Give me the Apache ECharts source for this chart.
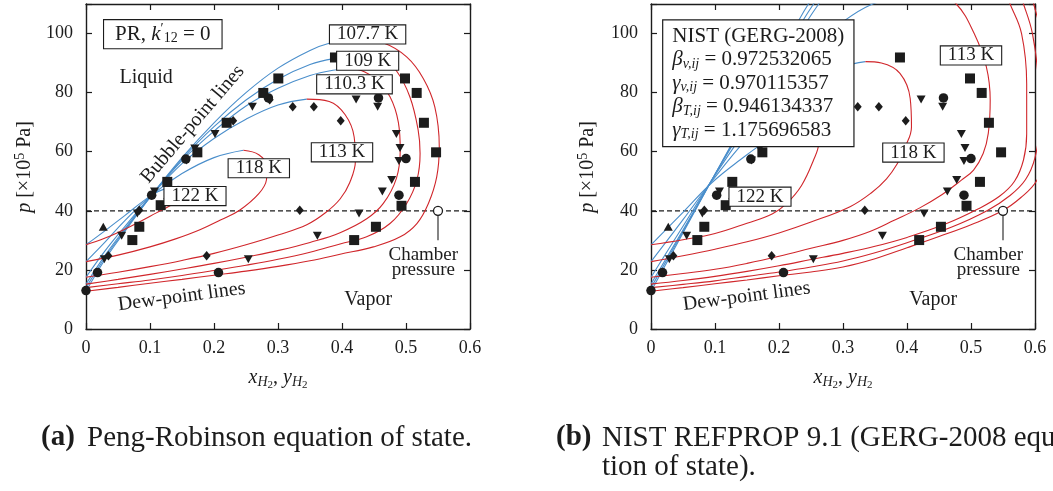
<!DOCTYPE html>
<html>
<head>
<meta charset="utf-8">
<script src="https://cdn.jsdelivr.net/npm/echarts@6/dist/echarts.min.js"></script>
<style>
  html, body { margin: 0; padding: 0; background: #fff; }
  #chart { width: 1053px; height: 491px; }
</style>
</head>
<body>
<div id="chart"></div>
<script>
// ---------- axis ticks ----------
const xTicks = [0, 0.1, 0.2, 0.3, 0.4, 0.5, 0.6];
const xTickLabels = ['0', '0.1', '0.2', '0.3', '0.4', '0.5', '0.6'];
const yTicks = [0, 20, 40, 60, 80, 100];
const yTickLabels = ['0', '20', '40', '60', '80', '100'];

const temperatures = ['107.7 K', '109 K', '110.3 K', '113 K', '118 K', '122 K'];

// ---------- Peng-Robinson phase envelopes [x_H2 or y_H2, p / 1e5 Pa] ----------
const prBubble1077 = [[0,12.8],[0.03,23.6],[0.06,32.8],[0.1026,45.3],[0.15,58],[0.2,69.8],[0.25,80],[0.3,88.3],[0.35,94.3],[0.38,96.7],[0.42,98.3]];
const prDew1077 = [[0.42,98.3],[0.465,96.8],[0.501,92.1],[0.527,84.8],[0.545,75.2],[0.552,61.7],[0.548,51.5],[0.535,42.5],[0.517,35.7],[0.491,31.2],[0.449,27.8],[0.397,25.3],[0.35,23.1],[0.3,21.2],[0.25,19.6],[0.2,18.2],[0.15,16.8],[0.1,15.5],[0.05,14.1],[0,12.8]];
const prBubble1090 = [[0,14],[0.03,24.3],[0.06,33.2],[0.1026,45.3],[0.15,57.5],[0.2,68.5],[0.25,77.5],[0.3,84.5],[0.35,89.5],[0.389,91.6],[0.43,92.6]];
const prDew1090 = [[0.43,92.6],[0.465,90.8],[0.485,87.4],[0.506,78.6],[0.519,67.3],[0.522,59.4],[0.517,50.4],[0.501,42.5],[0.475,35.7],[0.4385,31.2],[0.397,28.8],[0.35,26],[0.3,23.6],[0.25,21.6],[0.2,19.8],[0.15,18.1],[0.1,16.6],[0.05,15.3],[0,14]];
const prBubble1103 = [[0,15.2],[0.03,25],[0.06,33.7],[0.1026,45.3],[0.15,57],[0.2,67],[0.25,75.5],[0.3,81.5],[0.35,85.8],[0.386,87.6],[0.41,88]];
const prDew1103 = [[0.41,88],[0.43,87.5],[0.454,84.2],[0.475,78.6],[0.488,70],[0.491,60.5],[0.485,51],[0.4646,42.5],[0.4386,37.3],[0.397,32.6],[0.35,29.3],[0.303,26.7],[0.25,24.3],[0.2,22.2],[0.15,20.3],[0.1,18.5],[0.05,16.8],[0,15.2]];
const prBubble1130 = [[0,17.5],[0.03,26.5],[0.06,34.5],[0.1026,45.3],[0.15,56],[0.2,64.5],[0.25,71],[0.3,75.8],[0.345,77.8]];
const prDew1130 = [[0.345,77.8],[0.38,77],[0.405,72.5],[0.419,65],[0.421,57],[0.412,49.5],[0.397,44],[0.375,39.5],[0.345,35.3],[0.3,31.8],[0.25,28.5],[0.2,25.6],[0.15,23.2],[0.1,21.1],[0.05,19.2],[0,17.5]];
const prBubble1180 = [[0,22.8],[0.03,29.5],[0.06,36.5],[0.1026,45.3],[0.15,52.6],[0.2,58],[0.246,60.5]];
const prDew1180 = [[0.246,60.5],[0.27,59],[0.283,55],[0.282,50.5],[0.27,45.8],[0.24,40.2],[0.21,36.9],[0.178,33.6],[0.14,30.5],[0.1,27.8],[0.05,25],[0,22.8]];
const prBubble1220 = [[0,28.5],[0.03,33.3],[0.06,38.3],[0.1026,45.3],[0.125,47.6],[0.145,48.3]];
const prDew1220 = [[0.145,48.3],[0.152,46.2],[0.147,43.8],[0.132,41.8],[0.11,39.3],[0.084,36.3],[0.055,33.2],[0.028,30.6],[0,28.5]];

// ---------- NIST REFPROP (GERG-2008) phase envelopes ----------
const nistBubble1077 = [[0,12.8],[0.05,32.5],[0.095,50.4],[0.15,72],[0.2,91.5],[0.246,110],[0.33,135],[0.47,143]];
const nistDew1077 = [[0.47,143],[0.57,132],[0.598,110],[0.615,95],[0.625,75],[0.62,60],[0.602,50],[0.578,44.5],[0.549,40],[0.5,35.3],[0.45,31.3],[0.4,27.5],[0.35,23.8],[0.3,21],[0.25,19.3],[0.2,18],[0.15,16.6],[0.1,15.3],[0.05,14],[0,12.8]];
const nistBubble1090 = [[0,14],[0.05,33],[0.095,50.4],[0.15,71.5],[0.2,90.5],[0.254,110],[0.33,132],[0.46,141]];
const nistDew1090 = [[0.46,141],[0.55,130],[0.582,110],[0.596,100],[0.605,85],[0.607,70],[0.6,58],[0.585,50.5],[0.56,45],[0.525,40],[0.47,34.5],[0.4,29.2],[0.35,25.8],[0.3,23],[0.25,21],[0.2,19.3],[0.15,17.8],[0.1,16.3],[0.05,15.1],[0,14]];
const nistBubble1103 = [[0,15.2],[0.05,33.5],[0.095,50.4],[0.15,70.5],[0.2,88.5],[0.262,110],[0.33,128],[0.45,138]];
const nistDew1103 = [[0.45,138],[0.53,126],[0.561,110],[0.579,100],[0.587,83],[0.587,66],[0.582,57.2],[0.568,50],[0.545,45],[0.51,40.5],[0.46,35.5],[0.4,31],[0.35,28],[0.3,25.6],[0.25,23.5],[0.2,21.4],[0.15,19.5],[0.1,17.8],[0.05,16.4],[0,15.2]];
const nistBubble1130 = [[0,17.5],[0.05,34.8],[0.095,50.4],[0.15,68],[0.2,83],[0.25,95],[0.3,104],[0.342,109.6],[0.4,113.5]];
const nistDew1130 = [[0.4,113.5],[0.45,112.5],[0.477,110],[0.505,100],[0.524,88.7],[0.53,77.4],[0.527,66.2],[0.519,59.4],[0.504,53.8],[0.485,50.4],[0.455,45.5],[0.42,41],[0.38,36.8],[0.342,33],[0.3,30],[0.25,27.3],[0.2,24.6],[0.15,22.2],[0.1,20.2],[0.05,18.8],[0,17.5]];
const nistBubble1180 = [[0,22.8],[0.05,37],[0.095,50],[0.15,64.5],[0.2,75.5],[0.25,83.5],[0.3,88.8],[0.335,90.5]];
const nistDew1180 = [[0.335,90.5],[0.36,90],[0.389,86.5],[0.405,78],[0.407,68.4],[0.397,61.5],[0.385,56],[0.368,50.8],[0.345,46.2],[0.311,41.4],[0.25,36.2],[0.2,32.5],[0.15,29.5],[0.1,27],[0.05,24.8],[0,22.8]];
const nistBubble1220 = [[0,28.5],[0.05,39.5],[0.095,49.5],[0.139,57.2],[0.18,63.5],[0.22,67.8],[0.25,69.5]];
const nistDew1220 = [[0.25,69.5],[0.259,67.5],[0.262,63],[0.254,57.2],[0.235,48.5],[0.212,42.5],[0.19,39],[0.15,35.8],[0.1,32.3],[0.05,30.2],[0,28.5]];

// ---------- measured equilibrium points (same in both panels) ----------
const expSquares = [[0.0724,30.1],[0.0833,34.6],[0.1167,41.9],[0.127,49.8],[0.174,59.8],[0.2198,69.8],[0.277,79.9],[0.3005,84.8],[0.389,91.9],[0.419,30.1],[0.453,34.6],[0.493,41.7],[0.514,49.8],[0.547,59.8],[0.528,69.8],[0.5167,79.9],[0.4984,84.8]];
const expCircles = [[0,13],[0.018,19.1],[0.207,19.1],[0.1026,45.3],[0.489,45.3],[0.156,57.5],[0.5,57.7],[0.285,78.2],[0.457,78.2]];
const expDiamonds = [[0.035,24.8],[0.1885,24.8],[0.0833,40.2],[0.334,40.2],[0.23,70.5],[0.398,70.5],[0.323,75.2],[0.356,75.2],[0.287,77.6]];
const expTrianglesDown = [[0.0286,23.6],[0.2536,23.6],[0.0557,31.6],[0.3615,31.6],[0.0802,39.1],[0.4266,39.1],[0.107,46.5],[0.463,46.5],[0.4776,50.4],[0.157,57],[0.489,56.9],[0.17,61.1],[0.4906,61.3],[0.2016,66],[0.485,66],[0.26,75.2],[0.4557,75.2],[0.422,77.7]];
const expTrianglesUp = [[0.027,34.6],[0.1276,45.3]];

const chamberPressure = 40;
const chamberPoint = [0.55, 40];
const chamberLeader = [[0.55, 40], [0.55, 30]];

// ---------- styling ----------
const FONT = '"Liberation Serif", "DejaVu Serif", serif';
const INK = '#1c1c1c';
const BLUE = '#4a8ecb';
const RED = '#d0262b';

const prCurves = [
  [prBubble1077, prDew1077], [prBubble1090, prDew1090], [prBubble1103, prDew1103],
  [prBubble1130, prDew1130], [prBubble1180, prDew1180], [prBubble1220, prDew1220]
];
const nistCurves = [
  [nistBubble1077, nistDew1077], [nistBubble1090, nistDew1090], [nistBubble1103, nistDew1103],
  [nistBubble1130, nistDew1130], [nistBubble1180, nistDew1180], [nistBubble1220, nistDew1220]
];

function richSet(size) {
  const s = size || 20;
  return {
    r:   { fontFamily: FONT, fontSize: s, color: INK, fill: INK },
    i:   { fontFamily: FONT, fontSize: s, fontStyle: 'italic', color: INK, fill: INK },
    s:   { fontFamily: FONT, fontSize: 14, fontStyle: 'italic', color: INK, fill: INK, lineHeight: 14, padding: [9, 0, 0, 0] },
    n:   { fontFamily: FONT, fontSize: 14, color: INK, fill: INK, lineHeight: 14, padding: [9, 0, 0, 0] },
    ss:  { fontFamily: FONT, fontSize: 11, color: INK, fill: INK, lineHeight: 11, padding: [15, 0, 0, 0] },
    sup: { fontFamily: FONT, fontSize: 14, color: INK, fill: INK, lineHeight: 14, padding: [0, 0, 9, 0] },
    b:   { fontFamily: FONT, fontSize: s, fontWeight: 'bold', color: INK, fill: INK }
  };
}

function xAxisFor(grid, pos) {
  return {
    type: 'value', gridIndex: grid, position: pos, min: 0, max: 0.6, interval: 0.1,
    axisLine: { show: true, onZero: false, lineStyle: { color: INK, width: 1.4 } },
    axisTick: { show: true, inside: true, length: 6, lineStyle: { color: INK, width: 1.2 } },
    axisLabel: {
      show: pos === 'bottom', margin: 10, color: INK, fontFamily: FONT, fontSize: 18,
      formatter: v => { const k = xTicks.findIndex(t => Math.abs(t - v) < 1e-9); return k < 0 ? '' : xTickLabels[k]; }
    },
    splitLine: { show: false }
  };
}
function yAxisFor(grid, pos) {
  return {
    type: 'value', gridIndex: grid, position: pos, min: 0, max: 110, interval: 20,
    axisLine: { show: true, onZero: false, lineStyle: { color: INK, width: 1.4 } },
    axisTick: { show: true, inside: true, length: 6, lineStyle: { color: INK, width: 1.2 } },
    axisLabel: {
      show: pos === 'left', margin: 13, color: INK, fontFamily: FONT, fontSize: 18,
      formatter: v => { const k = yTicks.indexOf(v); return k < 0 ? '' : yTickLabels[k]; }
    },
    splitLine: { show: false }
  };
}

function curveSeries(panel, pts, color) {
  return {
    type: 'line', xAxisIndex: panel * 2, yAxisIndex: panel * 2, data: pts,
    smooth: 0.4, symbol: 'none', clip: true, silent: true, z: 3,
    lineStyle: { color: color, width: 1.1 }
  };
}
function markerSeries(panel, pts, symbol, size, rotate) {
  return {
    type: 'scatter', xAxisIndex: panel * 2, yAxisIndex: panel * 2, data: pts,
    symbol: symbol, symbolSize: size, symbolRotate: rotate || 0,
    itemStyle: { color: INK, opacity: 1 }, silent: true, z: 5
  };
}

const tagLabel = {
  show: true, position: 'inside', color: INK, fontFamily: FONT, fontSize: 19, lineHeight: 17, opacity: 1,
  backgroundColor: '#fff', borderColor: INK, borderWidth: 1.1, padding: [1, 7, 0, 7]
};
const noteLabel = { show: true, position: 'inside', color: INK, fontFamily: FONT, fontSize: 20, opacity: 1 };

function tag(x, p, text) { return { value: [x, p], label: Object.assign({}, tagLabel, { formatter: () => text }) }; }
function note(x, p, text, extra) { return { value: [x, p], label: Object.assign({}, noteLabel, { formatter: () => text }, extra || {}) }; }

// annotations on the Peng-Robinson panel
const prNotes = [
  tag(0.44, 99.7, temperatures[0]),
  tag(0.4401, 90.8, temperatures[1]),
  tag(0.4195, 82.8, temperatures[2]),
  tag(0.40, 59.8, temperatures[3]),
  tag(0.27, 54.4, temperatures[4]),
  tag(0.1703, 45.0, temperatures[5]),
  {
    value: [0.12, 99.8],
    label: Object.assign({}, tagLabel, {
      padding: [3, 11, 3, 11], lineHeight: 22, rich: richSet(21),
      formatter: () => '{r|PR, }{i|k}{sup|′}{n|12}{r| = 0}'
    })
  },
  note(0.094, 85.1, 'Liquid'),
  note(0.1667, 69.3, 'Bubble-point lines', { rotate: 49.5 }),
  note(0.1495, 10.9, 'Dew-point lines', { rotate: 7.5 }),
  note(0.441, 9.8, 'Vapor'),
  note(0.527, 22.5, 'Chamber\npressure', { lineHeight: 15, fontSize: 19 })
];

// annotations on the REFPROP panel
const nistRich = richSet(21);
['r', 'i'].forEach(k => { nistRich[k].lineHeight = 23.5; });
const nistNotes = [
  tag(0.50, 92.6, temperatures[3]),
  tag(0.41, 59.7, temperatures[4]),
  tag(0.1703, 44.8, temperatures[5]),
  {
    value: [0.0192, 83.2],
    label: Object.assign({}, tagLabel, {
      position: 'right', distance: 0, align: 'left', padding: [4, 9, 4, 9], lineHeight: 23.5,
      borderWidth: 1.2, rich: nistRich,
      formatter: () => [
        '{r|NIST (GERG-2008)}',
        '{i|β}{s|v,ij}{r| = 0.972532065}',
        '{i|γ}{s|v,ij}{r| = 0.970115357}',
        '{i|β}{s|T,ij}{r| = 0.946134337}',
        '{i|γ}{s|T,ij}{r| = 1.175696583}'
      ].join('\n')
    })
  },
  note(0.1495, 11.0, 'Dew-point lines', { rotate: 7.5 }),
  note(0.441, 9.8, 'Vapor'),
  note(0.527, 22.5, 'Chamber\npressure', { lineHeight: 15, fontSize: 19 })
];

function panelSeries(panel, curves, notes) {
  const out = [];
  out.push({
    type: 'line', xAxisIndex: panel * 2, yAxisIndex: panel * 2,
    data: [[0, chamberPressure], [0.6, chamberPressure]], symbol: 'none', silent: true, z: 2,
    lineStyle: { color: INK, width: 1.2, type: [5, 3] }
  });
  curves.forEach(([bubble, dew]) => {
    out.push(curveSeries(panel, bubble, BLUE));
    out.push(curveSeries(panel, dew, RED));
  });
  out.push({
    type: 'line', xAxisIndex: panel * 2, yAxisIndex: panel * 2, data: chamberLeader,
    symbol: 'none', silent: true, z: 3, lineStyle: { color: '#333', width: 1.2 }
  });
  out.push(markerSeries(panel, expSquares, 'rect', 10));
  out.push(markerSeries(panel, expCircles, 'circle', 9.5));
  out.push(markerSeries(panel, expDiamonds, 'diamond', [8, 9.5]));
  out.push(markerSeries(panel, expTrianglesDown, 'triangle', [9, 8], 180));
  out.push(markerSeries(panel, expTrianglesUp, 'triangle', [9, 8]));
  out.push({
    type: 'scatter', xAxisIndex: panel * 2, yAxisIndex: panel * 2, data: [chamberPoint],
    symbol: 'circle', symbolSize: 9, silent: true, z: 6,
    itemStyle: { color: '#fff', borderColor: INK, borderWidth: 1.3, opacity: 1 }
  });
  out.push({
    type: 'scatter', xAxisIndex: panel * 2, yAxisIndex: panel * 2, data: notes,
    symbolSize: 0, silent: true, z: 10, itemStyle: { opacity: 1 }, label: noteLabel
  });
  return out;
}

function axisTitles(cxY, cxX) {
  const rich = richSet(20);
  return [
    {
      type: 'text', x: cxY, y: 167, rotation: Math.PI / 2, z: 20,
      style: { text: '{i|p}{r| [×10}{sup|5}{r| Pa]}', rich: rich, align: 'center', verticalAlign: 'middle',
               fontFamily: FONT, fontSize: 20, fill: INK }
    },
    {
      type: 'text', x: cxX, y: 378, z: 20,
      style: { text: '{i|x}{s|H}{ss|2}{r|, }{i|y}{s|H}{ss|2}', rich: rich, align: 'center', verticalAlign: 'middle',
               fontFamily: FONT, fontSize: 20, fill: INK }
    }
  ];
}

function caption(x, y, text, bold) {
  return {
    type: 'text', x: x, y: y, z: 20,
    style: { text: text, fontFamily: FONT, fontSize: 29, fontWeight: bold ? 'bold' : 'normal',
             fill: INK, align: 'left', verticalAlign: 'middle' }
  };
}

const option = {
  animation: false,
  backgroundColor: '#fff',
  grid: [
    { left: 86, top: 4, width: 384, height: 325 },
    { left: 651, top: 4, width: 384, height: 325 }
  ],
  xAxis: [xAxisFor(0, 'bottom'), xAxisFor(0, 'top'), xAxisFor(1, 'bottom'), xAxisFor(1, 'top')],
  yAxis: [yAxisFor(0, 'left'), yAxisFor(0, 'right'), yAxisFor(1, 'left'), yAxisFor(1, 'right')],
  series: [].concat(panelSeries(0, prCurves, prNotes), panelSeries(1, nistCurves, nistNotes)),
  graphic: [].concat(
    axisTitles(25, 278),
    axisTitles(588, 843),
    [
      caption(41, 438, '(a)', true),
      caption(87, 438, 'Peng-Robinson equation of state.', false),
      caption(556, 438, '(b)', true),
      caption(602, 438, 'NIST REFPROP 9.1 (GERG-2008 equa-', false),
      caption(602, 467, 'tion of state).', false)
    ]
  )
};

const chart = echarts.init(document.getElementById('chart'), null, { renderer: 'canvas' });
chart.setOption(option);
</script>
</body>
</html>
